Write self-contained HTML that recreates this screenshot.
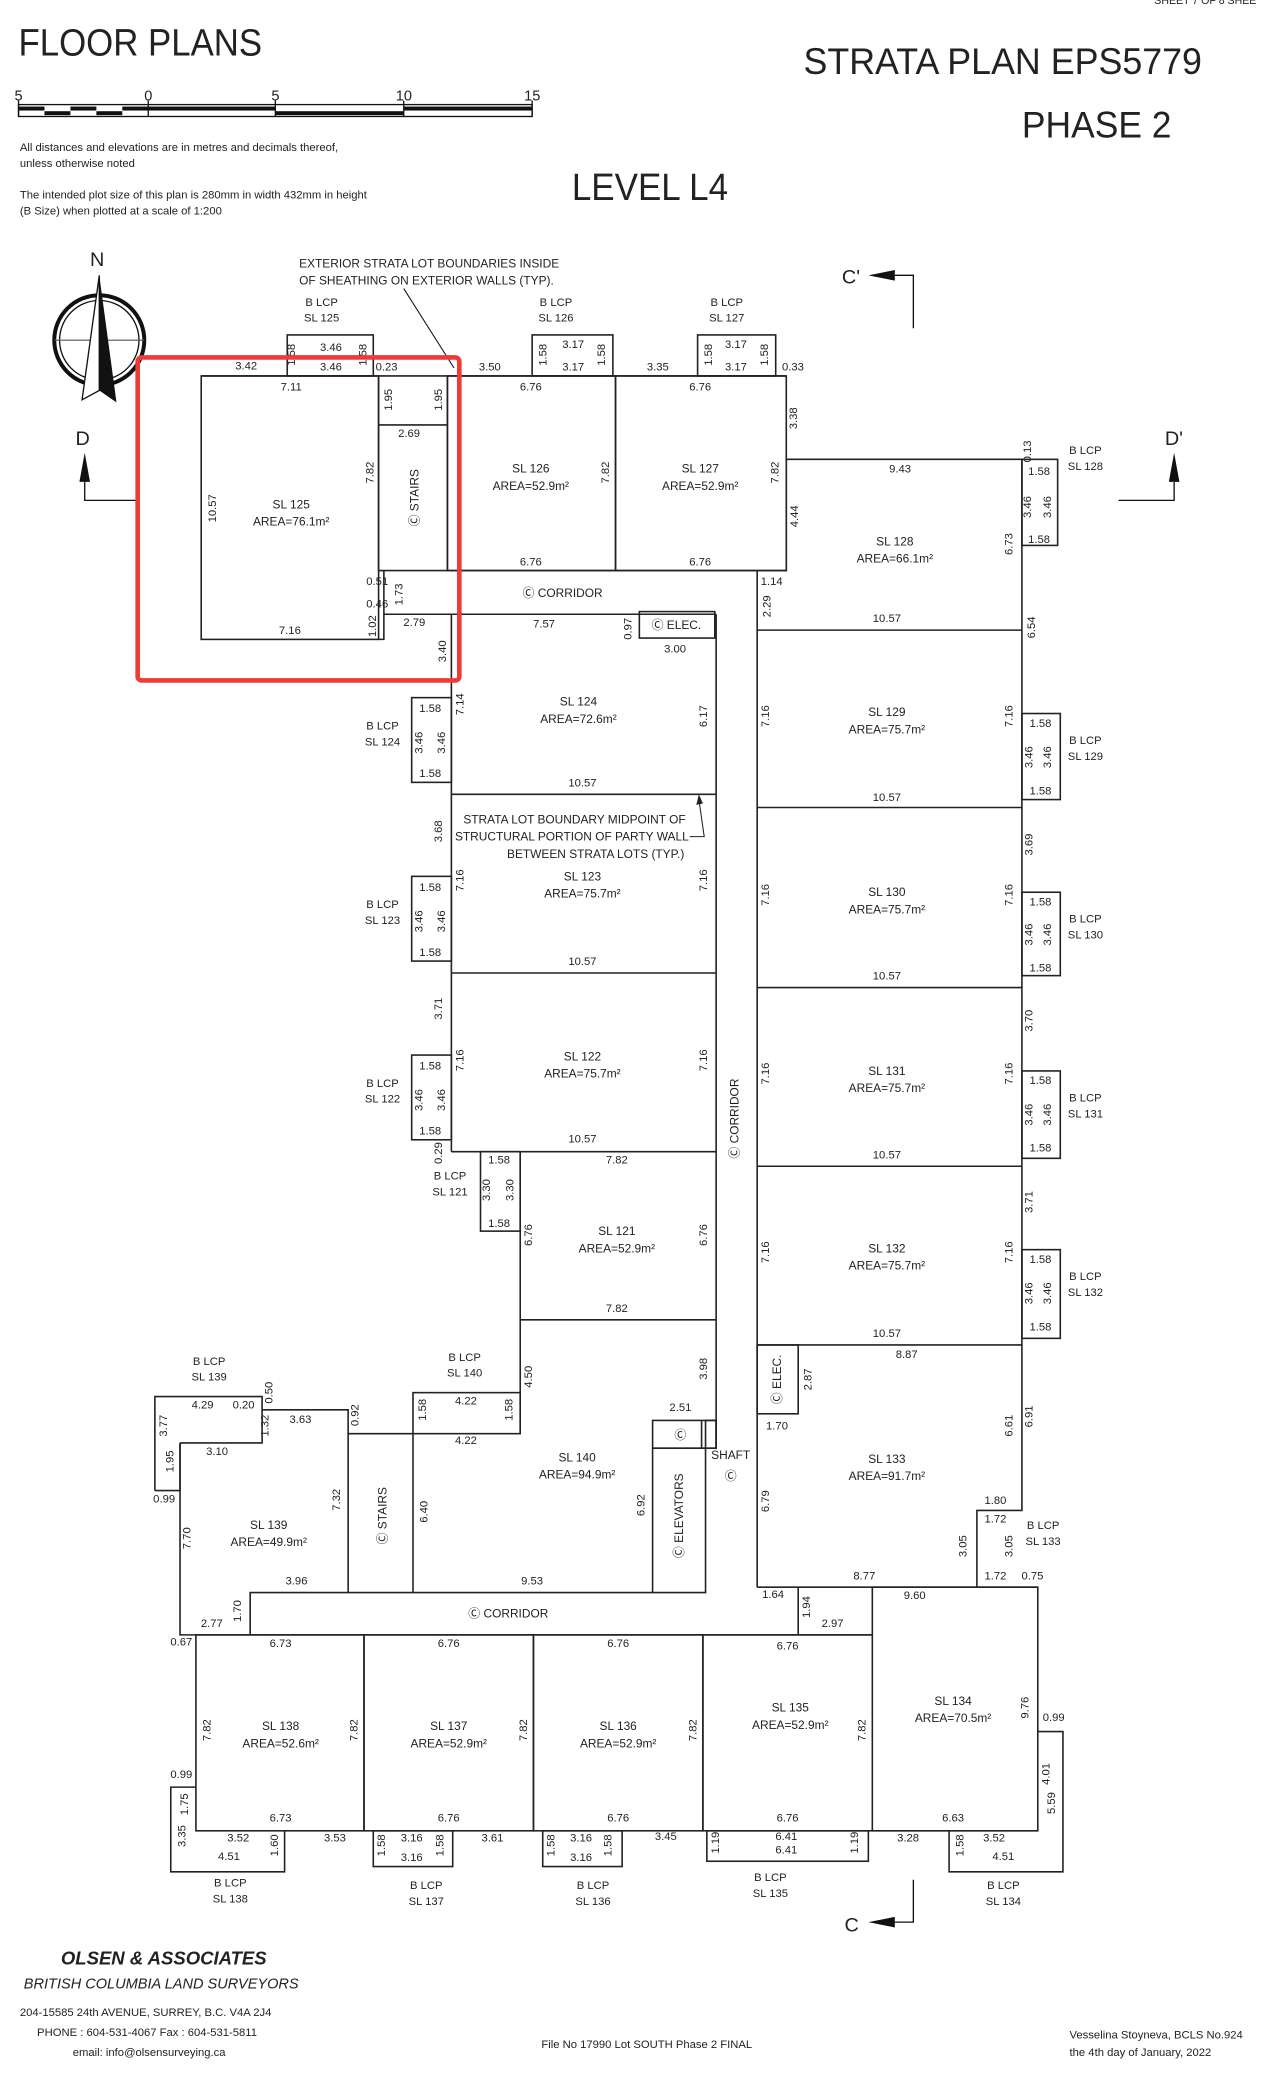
<!DOCTYPE html>
<html><head><meta charset="utf-8"><style>
html,body{margin:0;padding:0;background:#fff}
svg{display:block}
text{font-family:"Liberation Sans",sans-serif;fill:#222}
.d{font-size:8.5px}
.l{font-size:9px}
</style></head><body>
<svg width="1284" height="2081" viewBox="0 0 970 1572" preserveAspectRatio="none" xmlns="http://www.w3.org/2000/svg">
<rect width="970" height="1572" fill="#fff"/>
<text x="872" y="3" style="font-size:8px">SHEET 7 OF 8 SHEE</text>
<text x="14" y="42" style="font-size:29px" textLength="184" lengthAdjust="spacingAndGlyphs">FLOOR PLANS</text>
<text x="607" y="56" style="font-size:28px" textLength="301" lengthAdjust="spacingAndGlyphs">STRATA PLAN EPS5779</text>
<text x="772" y="104" style="font-size:28px" textLength="113" lengthAdjust="spacingAndGlyphs">PHASE 2</text>
<text x="432" y="151" style="font-size:29px" textLength="118" lengthAdjust="spacingAndGlyphs">LEVEL L4</text>
<!-- scale bar -->
<text x="11" y="76" style="font-size:11px">5</text><text x="109" y="76" style="font-size:11px">0</text><text x="205" y="76" style="font-size:11px">5</text><text x="299" y="76" style="font-size:11px">10</text><text x="396" y="76" style="font-size:11px">15</text>
<rect x="14" y="79" width="388" height="9" fill="#fff" stroke="#111" stroke-width="1"/>
<rect x="14" y="80.5" width="19.6" height="3" fill="#111"/><rect x="53.2" y="80.5" width="19.6" height="3" fill="#111"/><rect x="92.4" y="80.5" width="19.6" height="3" fill="#111"/>
<rect x="33.6" y="84" width="19.6" height="3" fill="#111"/><rect x="72.8" y="84" width="19.6" height="3" fill="#111"/>
<rect x="112" y="80.5" width="96" height="3" fill="#111"/><rect x="208" y="84" width="97" height="3" fill="#111"/><rect x="305" y="80.5" width="97" height="3" fill="#111"/>
<line x1="14" y1="76" x2="14" y2="88" stroke="#111"/><line x1="112" y1="76" x2="112" y2="88" stroke="#111"/><line x1="208" y1="76" x2="208" y2="88" stroke="#111"/><line x1="305" y1="76" x2="305" y2="88" stroke="#111"/><line x1="402" y1="76" x2="402" y2="88" stroke="#111"/>
<text x="15" y="114" style="font-size:8.5px">All distances and elevations are in metres and decimals thereof,</text>
<text x="15" y="126" style="font-size:8.5px">unless otherwise noted</text>
<text x="15" y="150" style="font-size:8.5px">The intended plot size of this plan is 280mm in width 432mm in height</text>
<text x="15" y="162" style="font-size:8.5px">(B Size) when plotted at a scale of 1:200</text>

<!-- north arrow -->
<circle cx="75" cy="257" r="34" fill="none" stroke="#111" stroke-width="3"/>
<circle cx="75" cy="257" r="30" fill="none" stroke="#111" stroke-width="1"/>
<line x1="41" y1="257" x2="109" y2="257" stroke="#555" stroke-width="0.8"/>
<polygon points="75,208 62,302 75,295" fill="#fff" stroke="#111" stroke-width="1"/>
<polygon points="75,208 88,304 75,295" fill="#111"/>
<text x="68" y="201" style="font-size:15px">N</text>

<!-- section markers -->
<text x="57" y="336" style="font-size:15px">D</text>
<polygon points="64,342 60,364 68,364" fill="#111"/>
<polyline points="64,364 64,378 104,378" fill="none" stroke="#111"/>
<text x="880" y="336" style="font-size:15px">D'</text>
<polygon points="887,342 883,364 891,364" fill="#111"/>
<polyline points="887,364 887,378 845,378" fill="none" stroke="#111"/>
<text x="636" y="214" style="font-size:15px">C'</text>
<polygon points="656,208 676,204 676,212" fill="#111"/>
<polyline points="676,208 690,208 690,248" fill="none" stroke="#111"/>
<text x="638" y="1459" style="font-size:15px">C</text>
<polygon points="656,1452 676,1448 676,1456" fill="#111"/>
<polyline points="676,1452 690,1452 690,1420" fill="none" stroke="#111"/>

<!-- annotations -->
<text x="226" y="202" class="l">EXTERIOR STRATA LOT BOUNDARIES INSIDE</text>
<text x="226" y="215" class="l">OF SHEATHING ON EXTERIOR WALLS (TYP).</text>
<line x1="305" y1="218" x2="343" y2="278" stroke="#111" stroke-width="0.8"/>

<g fill="none" stroke="#222" stroke-width="1.2">
<rect x="217" y="253" width="65" height="31"/>
<rect x="402" y="253" width="61" height="31"/>
<rect x="527" y="253" width="59" height="31"/>
<line x1="152" y1="284" x2="594" y2="284"/>
<rect x="152" y="284" width="134" height="199"/>
<polyline points="286,284 286,431 338,431 338,284"/>
<line x1="286" y1="321" x2="338" y2="321"/>
<rect x="338" y="284" width="127" height="147"/>
<rect x="465" y="284" width="129" height="147"/>
<polyline points="338,431 572,431 594,431 594,347 772,347 772,1141 738,1141 738,1199"/>
<polyline points="290,431 290,483 286,483"/>
<line x1="290" y1="464" x2="541" y2="464"/>
<rect x="483" y="462" width="57" height="20"/>
<line x1="541" y1="464" x2="541" y2="1094"/>
<line x1="572" y1="431" x2="572" y2="1199"/>
<line x1="341" y1="464" x2="341" y2="870"/>
<line x1="341" y1="600" x2="541" y2="600"/>
<line x1="341" y1="735" x2="541" y2="735"/>
<line x1="341" y1="870" x2="541" y2="870"/>
<rect x="311" y="527" width="30" height="64"/>
<rect x="311" y="662" width="30" height="64"/>
<rect x="311" y="797" width="30" height="64"/>
<rect x="363" y="870" width="30" height="60"/>
<line x1="393" y1="870" x2="393" y2="1083"/>
<line x1="393" y1="997" x2="541" y2="997"/>
<line x1="572" y1="476" x2="772" y2="476"/>
<line x1="572" y1="610" x2="772" y2="610"/>
<line x1="572" y1="746" x2="772" y2="746"/>
<line x1="572" y1="881" x2="772" y2="881"/>
<line x1="572" y1="1016" x2="772" y2="1016"/>
<rect x="772" y="347" width="27" height="65"/>
<rect x="772" y="539" width="29" height="65"/>
<rect x="772" y="674" width="29" height="63"/>
<rect x="772" y="809" width="29" height="66"/>
<rect x="772" y="944" width="29" height="67"/>
<rect x="572" y="1016" width="31" height="52"/>
<line x1="572" y1="1199" x2="784" y2="1199"/>
<rect x="312" y="1052" width="81" height="31"/>
<polyline points="263,1083 312,1083"/>
<polyline points="117,1126 117,1055 198,1055 198,1090 136,1090"/>
<line x1="136" y1="1090" x2="136" y2="1126"/>
<line x1="117" y1="1126" x2="136" y2="1126"/>
<polyline points="136,1090 136,1235 659,1235"/>
<polyline points="198,1065 263,1065 263,1203"/>
<line x1="312" y1="1083" x2="312" y2="1203"/>
<polyline points="189,1235 189,1203 533,1203 533,1073 541,1073 541,1094 493,1094"/>
<rect x="493" y="1073" width="48" height="21"/>
<line x1="530" y1="1073" x2="530" y2="1094"/>
<line x1="493" y1="1094" x2="493" y2="1203"/>
<line x1="603" y1="1199" x2="603" y2="1235"/>
<rect x="148" y="1235" width="127" height="148"/>
<rect x="275" y="1235" width="128" height="148"/>
<rect x="403" y="1235" width="128" height="148"/>
<rect x="531" y="1235" width="128" height="148"/>
<polyline points="659,1235 659,1199 784,1199 784,1383 659,1383"/>
<polyline points="148,1350 129,1350 129,1414 215,1414 215,1383"/>
<rect x="282" y="1383" width="60" height="27"/>
<rect x="410" y="1383" width="60" height="27"/>
<rect x="534" y="1383" width="122" height="23"/>
<polyline points="784,1308 803,1308 803,1414 717,1414 717,1383"/>
</g>

<!-- annotation leader -->
<polyline points="521,632 532,632 528,604" fill="none" stroke="#222" stroke-width="0.8"/>
<polygon points="528,600 526,608 531,607" fill="#222"/>

<g class="l" text-anchor="middle">
<text x="220" y="384">SL 125</text><text x="220" y="397">AREA=76.1m²</text>
<text x="401" y="357">SL 126</text><text x="401" y="370">AREA=52.9m²</text>
<text x="529" y="357">SL 127</text><text x="529" y="370">AREA=52.9m²</text>
<text x="676" y="412">SL 128</text><text x="676" y="425">AREA=66.1m²</text>
<text x="437" y="533">SL 124</text><text x="437" y="546">AREA=72.6m²</text>
<text x="440" y="665">SL 123</text><text x="440" y="678">AREA=75.7m²</text>
<text x="440" y="801">SL 122</text><text x="440" y="814">AREA=75.7m²</text>
<text x="466" y="933">SL 121</text><text x="466" y="946">AREA=52.9m²</text>
<text x="670" y="541">SL 129</text><text x="670" y="554">AREA=75.7m²</text>
<text x="670" y="677">SL 130</text><text x="670" y="690">AREA=75.7m²</text>
<text x="670" y="812">SL 131</text><text x="670" y="825">AREA=75.7m²</text>
<text x="670" y="946">SL 132</text><text x="670" y="959">AREA=75.7m²</text>
<text x="670" y="1105">SL 133</text><text x="670" y="1118">AREA=91.7m²</text>
<text x="436" y="1104">SL 140</text><text x="436" y="1117">AREA=94.9m²</text>
<text x="203" y="1155">SL 139</text><text x="203" y="1168">AREA=49.9m²</text>
<text x="212" y="1307">SL 138</text><text x="212" y="1320">AREA=52.6m²</text>
<text x="339" y="1307">SL 137</text><text x="339" y="1320">AREA=52.9m²</text>
<text x="467" y="1307">SL 136</text><text x="467" y="1320">AREA=52.9m²</text>
<text x="597" y="1293">SL 135</text><text x="597" y="1306">AREA=52.9m²</text>
<text x="720" y="1288">SL 134</text><text x="720" y="1301">AREA=70.5m²</text>
<text x="425" y="451">Ⓒ CORRIDOR</text>
<text x="384" y="1222">Ⓒ CORRIDOR</text>
<text x="511" y="475">Ⓒ ELEC.</text>
<text x="434" y="622">STRATA LOT BOUNDARY MIDPOINT OF</text>
<text x="432" y="635">STRUCTURAL PORTION OF PARTY WALL</text>
<text x="450" y="648">BETWEEN STRATA LOTS (TYP.)</text>
<text x="552" y="1102">SHAFT</text>
<text x="552" y="1118">Ⓒ</text>
<text x="514" y="1087">Ⓒ</text>
</g>
<g class="l" text-anchor="middle">
<text transform="translate(316,376) rotate(-90)">Ⓒ STAIRS</text>
<text transform="translate(558,845) rotate(-90)">Ⓒ CORRIDOR</text>
<text transform="translate(590,1042) rotate(-90)">Ⓒ ELEC.</text>
<text transform="translate(292,1145) rotate(-90)">Ⓒ STAIRS</text>
<text transform="translate(516,1145) rotate(-90)">Ⓒ ELEVATORS</text>
</g>

<g class="d" text-anchor="middle">
<text x="243" y="231">B LCP</text><text x="243" y="243">SL 125</text>
<text x="420" y="231">B LCP</text><text x="420" y="243">SL 126</text>
<text x="549" y="231">B LCP</text><text x="549" y="243">SL 127</text>
<text x="820" y="343">B LCP</text><text x="820" y="355">SL 128</text>
<text x="820" y="562">B LCP</text><text x="820" y="574">SL 129</text>
<text x="820" y="697">B LCP</text><text x="820" y="709">SL 130</text>
<text x="820" y="832">B LCP</text><text x="820" y="844">SL 131</text>
<text x="820" y="967">B LCP</text><text x="820" y="979">SL 132</text>
<text x="788" y="1155">B LCP</text><text x="788" y="1167">SL 133</text>
<text x="289" y="551">B LCP</text><text x="289" y="563">SL 124</text>
<text x="289" y="686">B LCP</text><text x="289" y="698">SL 123</text>
<text x="289" y="821">B LCP</text><text x="289" y="833">SL 122</text>
<text x="340" y="891">B LCP</text><text x="340" y="903">SL 121</text>
<text x="351" y="1028">B LCP</text><text x="351" y="1040">SL 140</text>
<text x="158" y="1031">B LCP</text><text x="158" y="1043">SL 139</text>
<text x="174" y="1425">B LCP</text><text x="174" y="1437">SL 138</text>
<text x="322" y="1427">B LCP</text><text x="322" y="1439">SL 137</text>
<text x="448" y="1427">B LCP</text><text x="448" y="1439">SL 136</text>
<text x="582" y="1421">B LCP</text><text x="582" y="1433">SL 135</text>
<text x="758" y="1427">B LCP</text><text x="758" y="1439">SL 134</text>
</g>

<g class="d" text-anchor="middle">
<text x="186" y="279">3.42</text><text x="250" y="265">3.46</text><text x="250" y="280">3.46</text><text x="292" y="280">0.23</text>
<text x="220" y="295">7.11</text><text x="370" y="280">3.50</text><text x="433" y="263">3.17</text><text x="433" y="280">3.17</text>
<text x="497" y="280">3.35</text><text x="556" y="263">3.17</text><text x="556" y="280">3.17</text><text x="599" y="280">0.33</text>
<text x="401" y="295">6.76</text><text x="529" y="295">6.76</text><text x="401" y="427">6.76</text><text x="529" y="427">6.76</text>
<text x="309" y="330">2.69</text><text x="285" y="442">0.51</text><text x="285" y="459">0.46</text><text x="219" y="479">7.16</text>
<text x="313" y="473">2.79</text><text x="411" y="474">7.57</text><text x="510" y="493">3.00</text><text x="583" y="442">1.14</text>
<text x="680" y="357">9.43</text><text x="670" y="470">10.57</text><text x="785" y="359">1.58</text><text x="785" y="410">1.58</text>
<text x="440" y="594">10.57</text><text x="440" y="729">10.57</text><text x="440" y="863">10.57</text>
<text x="325" y="538">1.58</text><text x="325" y="587">1.58</text><text x="325" y="673">1.58</text><text x="325" y="722">1.58</text>
<text x="325" y="808">1.58</text><text x="325" y="857">1.58</text><text x="377" y="879">1.58</text><text x="377" y="927">1.58</text>
<text x="466" y="879">7.82</text><text x="466" y="991">7.82</text>
<text x="670" y="605">10.57</text><text x="670" y="740">10.57</text><text x="670" y="875">10.57</text><text x="670" y="1010">10.57</text>
<text x="786" y="549">1.58</text><text x="786" y="600">1.58</text><text x="786" y="684">1.58</text><text x="786" y="734">1.58</text>
<text x="786" y="819">1.58</text><text x="786" y="870">1.58</text><text x="786" y="954">1.58</text><text x="786" y="1005">1.58</text>
<text x="685" y="1026">8.87</text><text x="587" y="1080">1.70</text><text x="752" y="1136">1.80</text><text x="752" y="1150">1.72</text>
<text x="752" y="1193">1.72</text><text x="780" y="1193">0.75</text><text x="653" y="1193">8.77</text><text x="691" y="1208">9.60</text>
<text x="584" y="1207">1.64</text><text x="629" y="1229">2.97</text><text x="514" y="1066">2.51</text>
<text x="153" y="1064">4.29</text><text x="184" y="1064">0.20</text><text x="227" y="1075">3.63</text><text x="164" y="1099">3.10</text>
<text x="124" y="1135">0.99</text><text x="352" y="1061">4.22</text><text x="352" y="1091">4.22</text>
<text x="224" y="1197">3.96</text><text x="402" y="1197">9.53</text><text x="160" y="1229">2.77</text><text x="137" y="1243">0.67</text>
<text x="212" y="1244">6.73</text><text x="339" y="1244">6.76</text><text x="467" y="1244">6.76</text><text x="595" y="1246">6.76</text>
<text x="212" y="1376">6.73</text><text x="339" y="1376">6.76</text><text x="467" y="1376">6.76</text><text x="595" y="1376">6.76</text>
<text x="720" y="1376">6.63</text><text x="796" y="1300">0.99</text><text x="137" y="1343">0.99</text>
<text x="180" y="1391">3.52</text><text x="173" y="1405">4.51</text><text x="253" y="1391">3.53</text>
<text x="311" y="1391">3.16</text><text x="311" y="1406">3.16</text><text x="372" y="1391">3.61</text>
<text x="439" y="1391">3.16</text><text x="439" y="1406">3.16</text><text x="503" y="1390">3.45</text>
<text x="594" y="1390">6.41</text><text x="594" y="1400">6.41</text><text x="686" y="1391">3.28</text>
<text x="751" y="1391">3.52</text><text x="758" y="1405">4.51</text>
</g>
<g class="d" text-anchor="middle">
<text transform="translate(163,384) rotate(-90)">10.57</text>
<text transform="translate(282,357) rotate(-90)">7.82</text>
<text transform="translate(296,302) rotate(-90)">1.95</text>
<text transform="translate(334,302) rotate(-90)">1.95</text>
<text transform="translate(460,357) rotate(-90)">7.82</text>
<text transform="translate(588,357) rotate(-90)">7.82</text>
<text transform="translate(602,316) rotate(-90)">3.38</text>
<text transform="translate(603,390) rotate(-90)">4.44</text>
<text transform="translate(304,449) rotate(-90)">1.73</text>
<text transform="translate(284,473) rotate(-90)">1.02</text>
<text transform="translate(337,492) rotate(-90)">3.40</text>
<text transform="translate(477,475) rotate(-90)">0.97</text>
<text transform="translate(582,458) rotate(-90)">2.29</text>
<text transform="translate(223,268) rotate(-90)">1.58</text>
<text transform="translate(277,268) rotate(-90)">1.58</text>
<text transform="translate(413,268) rotate(-90)">1.58</text>
<text transform="translate(457,268) rotate(-90)">1.58</text>
<text transform="translate(538,268) rotate(-90)">1.58</text>
<text transform="translate(580,268) rotate(-90)">1.58</text>
<text transform="translate(779,341) rotate(-90)">0.13</text>
<text transform="translate(779,383) rotate(-90)">3.46</text><text transform="translate(794,383) rotate(-90)">3.46</text>
<text transform="translate(765,411) rotate(-90)">6.73</text>
<text transform="translate(782,474) rotate(-90)">6.54</text>
<text transform="translate(350,532) rotate(-90)">7.14</text>
<text transform="translate(534,541) rotate(-90)">6.17</text>
<text transform="translate(334,628) rotate(-90)">3.68</text>
<text transform="translate(350,665) rotate(-90)">7.16</text><text transform="translate(534,665) rotate(-90)">7.16</text>
<text transform="translate(334,762) rotate(-90)">3.71</text>
<text transform="translate(350,801) rotate(-90)">7.16</text><text transform="translate(534,801) rotate(-90)">7.16</text>
<text transform="translate(319,561) rotate(-90)">3.46</text><text transform="translate(336,561) rotate(-90)">3.46</text>
<text transform="translate(319,696) rotate(-90)">3.46</text><text transform="translate(336,696) rotate(-90)">3.46</text>
<text transform="translate(319,831) rotate(-90)">3.46</text><text transform="translate(336,831) rotate(-90)">3.46</text>
<text transform="translate(334,871) rotate(-90)">0.29</text>
<text transform="translate(370,899) rotate(-90)">3.30</text><text transform="translate(388,899) rotate(-90)">3.30</text>
<text transform="translate(402,933) rotate(-90)">6.76</text><text transform="translate(534,933) rotate(-90)">6.76</text>
<text transform="translate(581,541) rotate(-90)">7.16</text><text transform="translate(765,541) rotate(-90)">7.16</text>
<text transform="translate(581,676) rotate(-90)">7.16</text><text transform="translate(765,676) rotate(-90)">7.16</text>
<text transform="translate(581,811) rotate(-90)">7.16</text><text transform="translate(765,811) rotate(-90)">7.16</text>
<text transform="translate(581,946) rotate(-90)">7.16</text><text transform="translate(765,946) rotate(-90)">7.16</text>
<text transform="translate(780,638) rotate(-90)">3.69</text>
<text transform="translate(780,771) rotate(-90)">3.70</text>
<text transform="translate(780,908) rotate(-90)">3.71</text>
<text transform="translate(780,572) rotate(-90)">3.46</text><text transform="translate(794,572) rotate(-90)">3.46</text>
<text transform="translate(780,706) rotate(-90)">3.46</text><text transform="translate(794,706) rotate(-90)">3.46</text>
<text transform="translate(780,842) rotate(-90)">3.46</text><text transform="translate(794,842) rotate(-90)">3.46</text>
<text transform="translate(780,977) rotate(-90)">3.46</text><text transform="translate(794,977) rotate(-90)">3.46</text>
<text transform="translate(613,1042) rotate(-90)">2.87</text>
<text transform="translate(765,1077) rotate(-90)">6.61</text><text transform="translate(780,1070) rotate(-90)">6.91</text>
<text transform="translate(581,1134) rotate(-90)">6.79</text>
<text transform="translate(730,1168) rotate(-90)">3.05</text><text transform="translate(765,1168) rotate(-90)">3.05</text>
<text transform="translate(402,1040) rotate(-90)">4.50</text>
<text transform="translate(534,1034) rotate(-90)">3.98</text>
<text transform="translate(322,1065) rotate(-90)">1.58</text><text transform="translate(387,1065) rotate(-90)">1.58</text>
<text transform="translate(271,1069) rotate(-90)">0.92</text>
<text transform="translate(206,1052) rotate(-90)">0.50</text>
<text transform="translate(203,1077) rotate(-90)">1.32</text>
<text transform="translate(126,1077) rotate(-90)">3.77</text>
<text transform="translate(131,1104) rotate(-90)">1.95</text>
<text transform="translate(144,1162) rotate(-90)">7.70</text>
<text transform="translate(257,1133) rotate(-90)">7.32</text>
<text transform="translate(323,1142) rotate(-90)">6.40</text>
<text transform="translate(487,1137) rotate(-90)">6.92</text>
<text transform="translate(182,1217) rotate(-90)">1.70</text>
<text transform="translate(612,1214) rotate(-90)">1.94</text>
<text transform="translate(159,1307) rotate(-90)">7.82</text><text transform="translate(270,1307) rotate(-90)">7.82</text>
<text transform="translate(398,1307) rotate(-90)">7.82</text><text transform="translate(526,1307) rotate(-90)">7.82</text>
<text transform="translate(654,1307) rotate(-90)">7.82</text>
<text transform="translate(777,1290) rotate(-90)">9.76</text>
<text transform="translate(793,1340) rotate(-90)">4.01</text><text transform="translate(797,1362) rotate(-90)">5.59</text>
<text transform="translate(142,1363) rotate(-90)">1.75</text><text transform="translate(140,1387) rotate(-90)">3.35</text>
<text transform="translate(210,1394) rotate(-90)">1.60</text>
<text transform="translate(291,1394) rotate(-90)">1.58</text><text transform="translate(335,1394) rotate(-90)">1.58</text>
<text transform="translate(419,1394) rotate(-90)">1.58</text><text transform="translate(462,1394) rotate(-90)">1.58</text>
<text transform="translate(543,1392) rotate(-90)">1.19</text><text transform="translate(648,1392) rotate(-90)">1.19</text>
<text transform="translate(728,1394) rotate(-90)">1.58</text>
</g>

<rect x="104" y="270" width="243" height="244" rx="3" fill="none" stroke="#ee3b36" stroke-width="3.5"/>

<text x="46" y="1484" style="font-size:14px;font-weight:bold;font-style:italic">OLSEN &amp; ASSOCIATES</text>
<text x="18" y="1502" style="font-size:11px;font-style:italic">BRITISH COLUMBIA LAND SURVEYORS</text>
<text x="15" y="1523" style="font-size:8.5px">204-15585 24th AVENUE, SURREY, B.C. V4A 2J4</text>
<text x="28" y="1538" style="font-size:8.5px">PHONE : 604-531-4067  Fax : 604-531-5811</text>
<text x="55" y="1553" style="font-size:8.5px">email: info@olsensurveying.ca</text>
<text x="409" y="1547" style="font-size:8.5px">File No 17990 Lot SOUTH Phase 2 FINAL</text>
<text x="808" y="1540" style="font-size:8.5px">Vesselina Stoyneva, BCLS No.924</text>
<text x="808" y="1553" style="font-size:8.5px">the 4th day of January, 2022</text>
</svg>
</body></html>
